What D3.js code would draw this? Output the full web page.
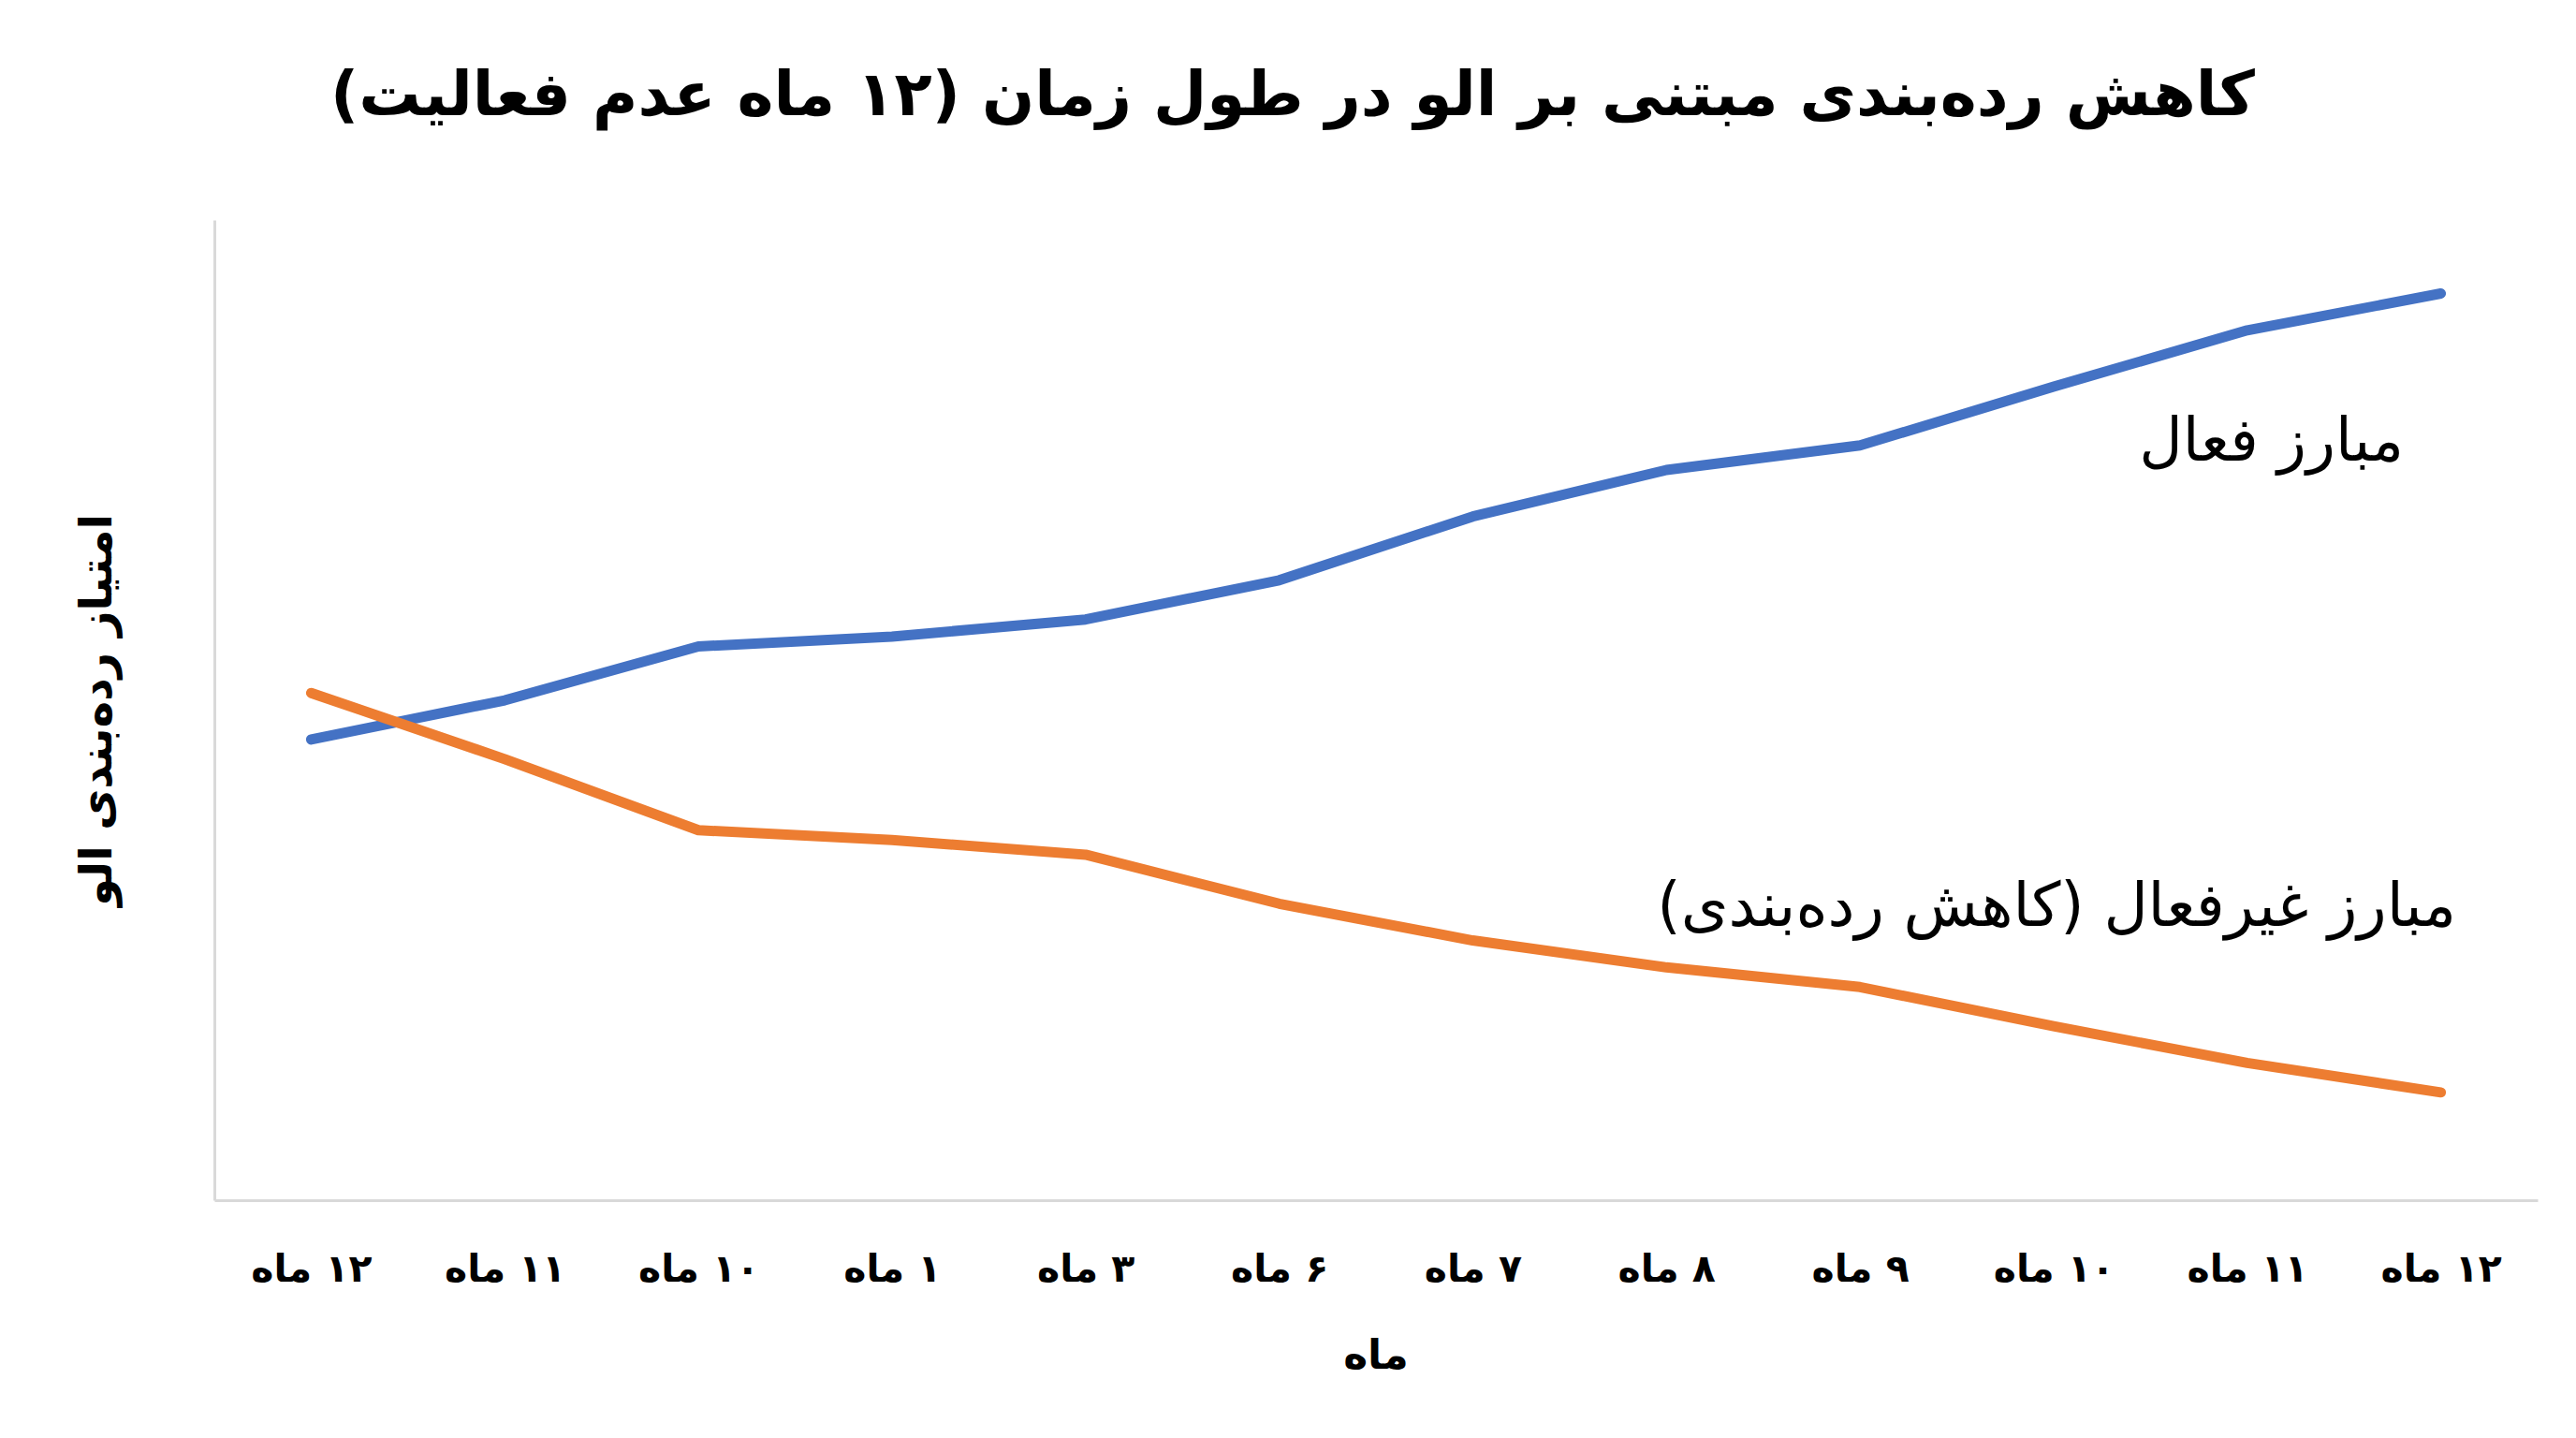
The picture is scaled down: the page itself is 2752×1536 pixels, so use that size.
<!DOCTYPE html>
<html>
<head>
<meta charset="utf-8">
<script src="https://cdn.jsdelivr.net/npm/d3@7"></script>
<style>
  body { margin: 0; background: #fff; }
  text { font-family: "DejaVu Sans", "Noto Sans", sans-serif; }
</style>
</head>
<body>
<script>
// month labels along the bottom (left to right as drawn)
var months = ["۱۲ ماه", "۱۱ ماه", "۱۰ ماه", "۱ ماه", "۳ ماه", "۶ ماه", "۷ ماه", "۸ ماه", "۹ ماه", "۱۰ ماه", "۱۱ ماه", "۱۲ ماه"];
var activeElo = [1488, 1504, 1526, 1530, 1537, 1553, 1579, 1598, 1608, 1632, 1655, 1670];
var inactiveElo = [1507, 1480, 1451, 1447, 1441, 1421, 1406, 1395, 1387, 1371, 1356, 1344];
var seriesNames = ["مبارز فعال", "مبارز غیرفعال (کاهش رده‌بندی)"];
var titleText = "کاهش رده‌بندی مبتنی بر الو در طول زمان (۱۲ ماه عدم فعالیت)";

var width = 2752, height = 1536;
var plotLeft = 229, plotRight = 2711, plotTop = 235, plotBottom = 1282;

var svg = d3.select("body").append("svg")
   .attr("width", width)
   .attr("height", height);

svg.append("rect").attr("width", width).attr("height", height).attr("fill", "#fff");

var x = d3.scalePoint()
  .domain(d3.range(months.length))
  .range([plotLeft, plotRight])
  .padding(0.5);

var y = d3.scaleLinear()
  .domain([1300, 1700])
  .range([plotBottom, plotTop]);

// axes: only the domain lines, no ticks
var xAxis = svg.append("g")
  .attr("transform", "translate(0," + plotBottom + ")")
  .call(d3.axisBottom(x).tickSize(0).tickFormat(function(i) { return months[i]; }));
xAxis.select(".domain").attr("stroke", "#d9d9d9").attr("stroke-width", 3);
xAxis.selectAll("text")
  .attr("y", 73)
  .attr("dy", "0.35em")
  .attr("direction", "rtl")
  .style("font-size", "41px")
  .style("font-weight", "bold")
  .attr("fill", "#000");

var yAxis = svg.append("g")
  .attr("transform", "translate(" + plotLeft + ",0)")
  .call(d3.axisLeft(y).tickSize(0).tickValues([]));
yAxis.select(".domain").attr("stroke", "#d9d9d9").attr("stroke-width", 3);

var line = d3.line()
  .x(function(d, i) { return x(i); })
  .y(function(d) { return y(d); });

svg.append("path")
  .datum(activeElo)
  .attr("d", line)
  .attr("fill", "none")
  .attr("stroke", "#4472C4")
  .attr("stroke-width", 11)
  .attr("stroke-linecap", "round")
  .attr("stroke-linejoin", "round");

svg.append("path")
  .datum(inactiveElo)
  .attr("d", line)
  .attr("fill", "none")
  .attr("stroke", "#ED7D31")
  .attr("stroke-width", 11)
  .attr("stroke-linecap", "round")
  .attr("stroke-linejoin", "round");

// series labels
svg.append("text")
  .attr("x", 2568).attr("y", 470)
  .attr("dy", "0.35em")
  .attr("direction", "rtl")
  .attr("text-anchor", "start")
  .style("font-size", "64px")
  .text(seriesNames[0]);

svg.append("text")
  .attr("x", 2624).attr("y", 966)
  .attr("dy", "0.35em")
  .attr("direction", "rtl")
  .attr("text-anchor", "start")
  .style("font-size", "65px")
  .text(seriesNames[1]);

// title
svg.append("text")
  .attr("x", 1381).attr("y", 100)
  .attr("dy", "0.35em")
  .attr("direction", "rtl")
  .attr("text-anchor", "middle")
  .style("font-size", "66px")
  .style("font-weight", "bold")
  .text(titleText);

// axis titles
svg.append("text")
  .attr("x", (plotLeft + plotRight) / 2).attr("y", 1447)
  .attr("dy", "0.35em")
  .attr("direction", "rtl")
  .attr("text-anchor", "middle")
  .style("font-size", "44px")
  .style("font-weight", "bold")
  .text("ماه");

svg.append("text")
  .attr("transform", "translate(102," + ((plotTop + plotBottom) / 2) + ") rotate(-90)")
  .attr("dy", "0.35em")
  .attr("direction", "rtl")
  .attr("text-anchor", "middle")
  .style("font-size", "48px")
  .style("font-weight", "bold")
  .text("امتیاز رده‌بندی الو");
</script>
</body>
</html>
